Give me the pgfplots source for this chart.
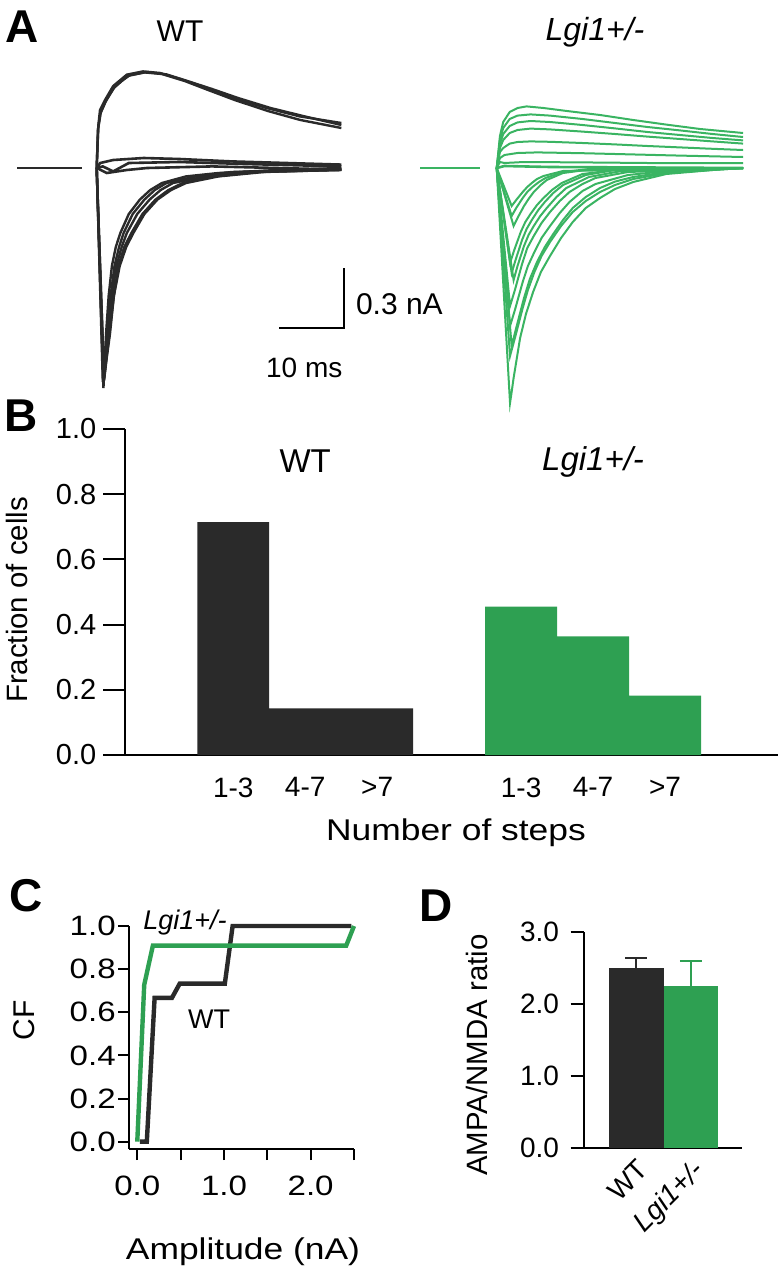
\documentclass[border=0pt]{standalone}
\usepackage{fontspec}
\setmainfont{Liberation Sans}
\newfontfamily\wide{Liberation Sans}[FakeStretch=1.18]
\usepackage{pgfplots}
\pgfplotsset{compat=1.18}
\definecolor{wtk}{HTML}{2A2A2A}
\definecolor{grbar}{HTML}{2EA052}
\definecolor{grtr}{HTML}{3AB462}
\pgfplotsset{/pgf/number format/assume math mode=true}
\begin{document}
\begin{tikzpicture}
\path[use as bounding box] (0,0) rectangle (389pt,-640pt);

% ---------------- Panel A, WT traces ----------------
\begin{axis}[at={(8.5pt,-214pt)}, anchor=south west, scale only axis,
  width=162.5pt, height=190pt, xmin=0, xmax=50, ymin=-1.3, ymax=0.6,
  hide axis, clip=false]
\addplot[wtk, line width=1.3pt] coordinates {(0,0)(10,0)};
% outward
\addplot[wtk, line width=1.2pt] coordinates {(12.26,0)(12.5,0.208)(12.77,0.29)(13.54,0.34)(14.8,0.41)(16.9,0.467)(19.4,0.483)(22.0,0.475)(25.6,0.44)(29.2,0.40)(33.3,0.35)(38.4,0.30)(43.5,0.258)(49.9,0.225)};
\addplot[wtk, line width=1.2pt] coordinates {(12.26,0)(12.45,0.19)(12.8,0.27)(13.6,0.33)(14.9,0.40)(17.0,0.46)(19.6,0.478)(22.3,0.47)(25.8,0.435)(29.4,0.39)(33.5,0.34)(38.6,0.285)(43.6,0.24)(49.9,0.20)};
\addplot[wtk, line width=1.2pt] coordinates {(12.26,0)(12.5,0.2)(12.9,0.28)(13.8,0.345)(15.2,0.415)(17.4,0.465)(20.0,0.48)(23,0.468)(26.5,0.432)(30,0.395)(34,0.35)(39,0.3)(44,0.26)(49.9,0.215)};
% near baseline
\addplot[wtk, line width=1.3pt] coordinates {(12.26,0)(12.8,0.025)(14.8,0.04)(19.5,0.05)(25,0.045)(33,0.033)(49.9,0.017)};
\addplot[wtk, line width=1.3pt] coordinates {(12.26,0)(13.2,0.008)(14.8,-0.017)(17.2,0.025)(25,0.03)(35,0.02)(49.9,0.008)};
\addplot[wtk, line width=1.3pt] coordinates {(12.26,0)(13.8,-0.025)(16.9,-0.01)(20,0)(30,0.008)(49.9,-0.008)};
% inward
\addplot[wtk, line width=1.2pt] coordinates {(12.26,0)(13.3,-1.10)(13.5,-0.96)(13.7,-0.83)(14.1,-0.64)(14.6,-0.49)(15.2,-0.395)(15.9,-0.325)(17.2,-0.23)(18.9,-0.158)(20.5,-0.11)(22.3,-0.075)(26.0,-0.042)(31,-0.025)(40,-0.01)(49.9,0)};
\addplot[wtk, line width=1.2pt] coordinates {(12.26,0)(13.2,-1.07)(13.5,-0.95)(13.9,-0.83)(14.4,-0.64)(15.0,-0.49)(15.7,-0.395)(16.4,-0.325)(17.8,-0.23)(19.6,-0.158)(21.2,-0.11)(23.0,-0.075)(27.5,-0.042)(33,-0.02)(49.9,-0.005)};
\addplot[wtk, line width=1.2pt] coordinates {(12.26,0)(13.3,-1.08)(13.7,-0.96)(14.1,-0.83)(14.6,-0.64)(15.3,-0.49)(16.1,-0.395)(16.9,-0.325)(18.5,-0.23)(20.4,-0.158)(22.1,-0.11)(24.0,-0.075)(29,-0.042)(35,-0.02)(49.9,-0.01)};
\addplot[wtk, line width=1.2pt] coordinates {(12.26,0)(13.4,-1.06)(13.8,-0.95)(14.3,-0.83)(14.9,-0.64)(15.6,-0.49)(16.5,-0.395)(17.6,-0.325)(19.3,-0.23)(21.3,-0.158)(23.3,-0.11)(25.5,-0.075)(30.5,-0.042)(37,-0.02)(49.9,-0.01)};
\addplot[wtk, line width=1.2pt] coordinates {(12.26,0)(13.4,-1.05)(13.8,-0.94)(14.2,-0.83)(14.9,-0.64)(15.8,-0.49)(16.8,-0.395)(17.9,-0.325)(19.6,-0.23)(21.6,-0.158)(23.7,-0.11)(26.0,-0.075)(31,-0.042)(38,-0.02)(49.9,-0.008)};
% scale bar
\addplot[black, line width=1pt] coordinates {(40.35,-0.80)(50.35,-0.80)(50.35,-0.50)};
\node[anchor=west, inner sep=0pt, font=\fontsize{15}{18}\selectfont] at (axis cs:52.1,-0.68) {0.3 nA};
\node[inner sep=0pt, font=\fontsize{14}{17}\selectfont] at (axis cs:44.2,-1.0) {10 ms};
\end{axis}

% ---------------- Panel A, Lgi1+/- traces ----------------
\begin{axis}[at={(210pt,-214pt)}, anchor=south west, scale only axis,
  width=162.5pt, height=190pt, xmin=0, xmax=50, ymin=-1.3, ymax=0.6,
  hide axis, clip=false]
\addplot[grtr, line width=1.3pt] coordinates {(0,0)(9.2,0)};
% outward
\addplot[grtr, line width=1pt] coordinates {(11.8,0)(12.3,0.16)(12.8,0.23)(13.8,0.28)(15,0.30)(16.4,0.308)(19,0.30)(22.6,0.285)(27.7,0.265)(32.8,0.24)(37.9,0.217)(43.1,0.195)(49.7,0.175)};
\addplot[grtr, line width=1pt] coordinates {(11.8,0)(12.3,0.14)(12.8,0.2)(13.8,0.245)(15,0.262)(17,0.268)(20,0.262)(25,0.245)(30,0.225)(35,0.205)(40,0.188)(45,0.17)(49.7,0.155)};
\addplot[grtr, line width=1pt] coordinates {(11.8,0)(12.3,0.12)(12.8,0.17)(13.8,0.21)(15,0.228)(17,0.235)(20,0.23)(25,0.215)(30,0.198)(35,0.18)(40,0.165)(45,0.15)(49.7,0.138)};
\addplot[grtr, line width=1pt] coordinates {(11.8,0)(12.3,0.1)(12.8,0.14)(13.8,0.175)(15,0.19)(17,0.197)(20,0.193)(25,0.182)(30,0.17)(35,0.157)(40,0.145)(45,0.133)(49.7,0.122)};
\addplot[grtr, line width=1pt] coordinates {(11.8,0)(12.3,0.08)(12.8,0.1)(13.8,0.122)(15,0.13)(17,0.133)(20,0.131)(25,0.125)(30,0.118)(35,0.11)(40,0.103)(45,0.096)(49.7,0.09)};
\addplot[grtr, line width=1pt] coordinates {(11.8,0)(12.3,0.05)(13,0.065)(15,0.075)(18,0.078)(25,0.074)(30,0.07)(40,0.062)(49.7,0.055)};
\addplot[grtr, line width=1pt] coordinates {(11.8,0)(12.3,0.03)(13,0.025)(16,0.03)(25,0.028)(35,0.025)(49.7,0.025)};
\addplot[grtr, line width=1.3pt] coordinates {(11.8,0)(13,0.01)(20,0.005)(49.7,0.0)};
% inward
\addplot[grtr, line width=1pt] coordinates {(11.8,0)(13.85,-1.175)(14.1,-1.12)(14.4,-1.05)(14.9,-0.95)(15.4,-0.85)(16.3,-0.73)(17.4,-0.62)(18.6,-0.52)(20,-0.44)(21.7,-0.35)(23.5,-0.27)(25.5,-0.2)(27.7,-0.15)(30,-0.105)(32.8,-0.07)(37.9,-0.03)(45,-0.01)(49.7,0)};
\addplot[grtr, line width=1pt] coordinates {(11.8,0)(13.85,-0.94)(14.6,-0.85)(15.8,-0.70)(16.6,-0.61)(17.6,-0.52)(18.7,-0.44)(20,-0.37)(21.7,-0.29)(23.5,-0.22)(25.5,-0.165)(27.7,-0.12)(30,-0.085)(32.8,-0.055)(38,-0.025)(49.7,0)};
\addplot[grtr, line width=1pt] coordinates {(11.8,0)(14.1,-0.89)(14.8,-0.80)(16,-0.65)(16.9,-0.555)(18,-0.47)(19.2,-0.395)(20.5,-0.33)(22,-0.26)(23.5,-0.2)(25.5,-0.145)(27.7,-0.1)(30,-0.068)(32.8,-0.045)(38,-0.02)(49.7,0)};
\addplot[grtr, line width=1pt] coordinates {(11.8,0)(13.85,-0.79)(14.6,-0.71)(15.8,-0.57)(16.6,-0.49)(17.6,-0.42)(18.7,-0.35)(20,-0.29)(21.5,-0.225)(23,-0.17)(25,-0.115)(27,-0.08)(32,-0.035)(38,-0.015)(49.7,0)};
\addplot[grtr, line width=1pt] coordinates {(11.8,0)(13.85,-0.69)(14.6,-0.61)(15.7,-0.48)(16.5,-0.4)(17.5,-0.34)(18.7,-0.275)(20,-0.22)(21.5,-0.165)(23,-0.12)(25,-0.08)(27,-0.05)(32,-0.02)(49.7,0)};
\addplot[grtr, line width=1pt] coordinates {(11.8,0)(14.4,-0.56)(15,-0.49)(16,-0.39)(16.7,-0.335)(17.5,-0.29)(18.5,-0.24)(19.5,-0.2)(21,-0.145)(22.5,-0.1)(26,-0.045)(31,-0.015)(49.7,0)};
\addplot[grtr, line width=1pt] coordinates {(11.8,0)(14.1,-0.525)(14.7,-0.46)(15.7,-0.36)(16.4,-0.305)(17.2,-0.26)(18.2,-0.21)(19.2,-0.17)(20.5,-0.125)(22,-0.085)(25.5,-0.035)(30,-0.01)(49.7,0)};
\addplot[grtr, line width=1pt] coordinates {(11.8,0)(13.85,-0.475)(14.5,-0.41)(15.5,-0.32)(16.2,-0.27)(17,-0.23)(18,-0.185)(19,-0.15)(20.3,-0.11)(21.8,-0.075)(25,-0.03)(30,-0.01)(49.7,0)};
\addplot[grtr, line width=1pt] coordinates {(11.8,0)(14.4,-0.29)(15,-0.25)(16,-0.19)(16.7,-0.155)(17.5,-0.12)(18.5,-0.087)(19.5,-0.06)(22,-0.025)(26,-0.008)(49.7,0)};
\addplot[grtr, line width=1pt] coordinates {(11.8,0)(14.1,-0.24)(14.8,-0.2)(15.8,-0.15)(16.5,-0.12)(17.3,-0.095)(18.3,-0.07)(19.3,-0.05)(22,-0.02)(26,-0.005)(49.7,0)};
\addplot[grtr, line width=1pt] coordinates {(11.8,0)(14.1,-0.19)(14.8,-0.16)(15.8,-0.12)(16.5,-0.095)(17.2,-0.075)(18,-0.055)(19,-0.04)(22,-0.015)(49.7,0)};
\end{axis}

% ---------------- Panel B ----------------
\begin{axis}[at={(62.65pt,-377.5pt)}, anchor=south west, scale only axis,
  width=326.35pt, height=163pt, xmin=0, xmax=9.07, ymin=0, ymax=1,
  axis x line*=bottom, axis y line*=left,
  axis line style={line width=1pt, black},
  ytick align=outside, xtick align=inside, major tick length=11pt,
  tick style={line width=1pt, black},
  ytick={0,0.2,0.4,0.6,0.8,1},
  /pgf/number format/fixed, /pgf/number format/fixed zerofill, /pgf/number format/precision=1,
  yticklabel style={font=\fontsize{14.5}{16}\selectfont},
  xtick={1.5,2.5,3.5,5.5,6.5,7.5}, xticklabels={1-3,4-7,>7,1-3,4-7,>7},
  xtick style={draw=none},
  xticklabel style={font=\fontsize{14}{16}\selectfont, yshift=-7.7pt},
  clip=false]
\addplot[ybar interval, fill=wtk, draw=none] coordinates {(1,0.714)(2,0.143)(3,0.143)(4,0.143)};
\addplot[ybar interval, fill=grbar, draw=none] coordinates {(5,0.455)(6,0.364)(7,0.182)(8,0.182)};
\node[font=\fontsize{16.5}{19}\selectfont] at (axis cs:2.5,0.9) {WT};
\node[font=\itshape\fontsize{16.5}{19}\selectfont] at (axis cs:6.5,0.9) {Lgi1+/-};
\end{axis}

% ---------------- Panel C ----------------
\begin{axis}[at={(64.65pt,-574.5pt)}, anchor=south west, scale only axis,
  width=112.35pt, height=111.5pt, xmin=-0.092, xmax=2.5, ymin=-0.034, ymax=1.0,
  axis x line*=bottom, axis y line*=left,
  axis line style={line width=1pt, black},
  tick align=outside, major tick length=5.5pt,
  tick style={line width=1pt, black},
  ytick={0,0.2,0.4,0.6,0.8,1},
  /pgf/number format/fixed, /pgf/number format/fixed zerofill, /pgf/number format/precision=1,
  xtick={0,0.5,1,1.5,2,2.5}, xticklabels={0.0,,1.0,,2.0,},
  tick label style={font=\wide\fontsize{14}{16}\selectfont},
  xticklabel style={yshift=-4.3pt},
  yticklabel style={xshift=2.2pt},
  clip=false]
\addplot[wtk, line width=2.2pt] coordinates {(0.03,0)(0.11,0)(0.2,0.667)(0.4,0.667)(0.49,0.733)(1.01,0.733)(1.1,1.0)(2.47,1.0)};
\addplot[grbar, line width=2.2pt] coordinates {(0,0)(0.08,0.727)(0.18,0.909)(2.41,0.909)(2.5,1.0)};
\node[font=\itshape\fontsize{13.5}{16}\selectfont] at (axis cs:0.55,1.017) {Lgi1+/-};
\node[font=\fontsize{13.5}{16}\selectfont] at (axis cs:0.83,0.567) {WT};
\end{axis}

% ---------------- Panel D ----------------
\begin{axis}[at={(292.15pt,-573.85pt)}, anchor=south west, scale only axis,
  width=78.7pt, height=107.7pt, xmin=0, xmax=157.4, ymin=0, ymax=3,
  axis x line*=bottom, axis y line*=left,
  axis line style={line width=1pt, black},
  ytick align=outside, xtick align=inside, major tick length=6.8pt,
  tick style={line width=1pt, black},
  ytick={0,1,2,3},
  /pgf/number format/fixed, /pgf/number format/fixed zerofill, /pgf/number format/precision=1,
  yticklabel style={font=\fontsize{14}{16}\selectfont, xshift=-2.3pt},
  xtick={52,106.5}, xticklabels={WT,\textit{Lgi1+/-}},
  xtick style={draw=none},
  xticklabel style={font=\fontsize{14}{16}\selectfont, rotate=45, anchor=north east},
  clip=false]
\addplot[ybar, bar width=54.5, bar shift=0pt, fill=wtk, draw=none,
  error bars/.cd, y dir=plus, y explicit,
  error bar style={wtk, line width=1pt},
  error mark options={rotate=90, wtk, line width=1pt, mark size=5.5pt}]
  coordinates {(52,2.507) +- (0,0.133)};
\addplot[ybar, bar width=54.5, bar shift=0pt, fill=grbar, draw=none,
  error bars/.cd, y dir=plus, y explicit,
  error bar style={grbar, line width=1pt},
  error mark options={rotate=90, grbar, line width=1pt, mark size=5.5pt}]
  coordinates {(106.5,2.252) +- (0,0.344)};
\end{axis}

% ---------------- labels ----------------
\node[inner sep=0pt, font=\bfseries\fontsize{23}{26}\selectfont] at (11.25pt,-13.25pt) {A};
\node[inner sep=0pt, font=\bfseries\fontsize{23}{26}\selectfont] at (10.75pt,-208pt) {B};
\node[inner sep=0pt, font=\bfseries\fontsize{23}{26}\selectfont] at (13pt,-448pt) {C};
\node[inner sep=0pt, font=\bfseries\fontsize{23}{26}\selectfont] at (218.25pt,-452.75pt) {D};
\node[inner sep=0pt, font=\fontsize{15}{18}\selectfont] at (90pt,-15.5pt) {WT};
\node[inner sep=0pt, font=\itshape\fontsize{16}{19}\selectfont] at (297.5pt,-16pt) {Lgi1+/-};
\node[inner sep=0pt, rotate=90, font=\fontsize{14.7}{17}\selectfont] at (8.5pt,-300pt) {Fraction of cells};
\node[inner sep=0pt, font=\wide\fontsize{15}{18}\selectfont] at (228pt,-416.5pt) {Number of steps};
\node[inner sep=0pt, rotate=90, font=\fontsize{15}{18}\selectfont] at (12pt,-510pt) {CF};
\node[inner sep=0pt, font=\wide\fontsize{15}{18}\selectfont] at (121.5pt,-626pt) {Amplitude (nA)};
\node[inner sep=0pt, rotate=90, font=\fontsize{14.7}{17}\selectfont] at (238.5pt,-527.5pt) {AMPA/NMDA ratio};
\end{tikzpicture}
\end{document}
